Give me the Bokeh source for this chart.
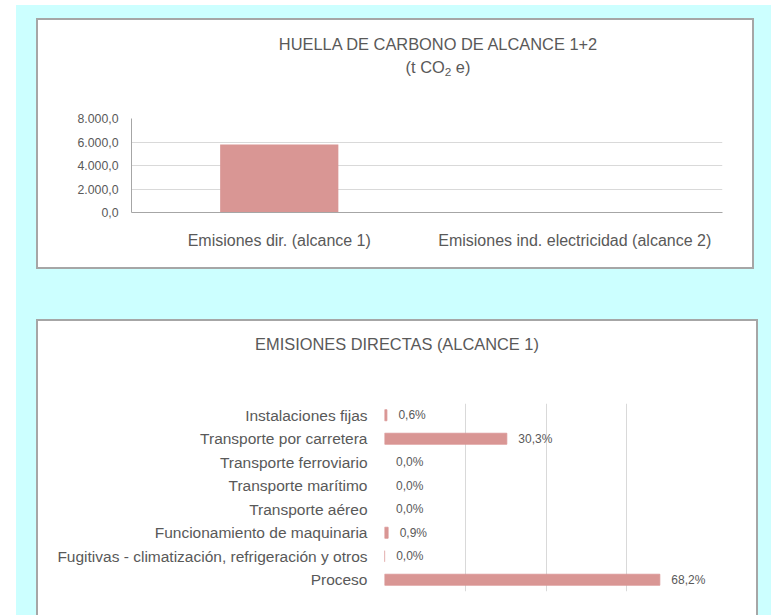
from bokeh.plotting import figure
from bokeh.layouts import column
from bokeh.models import FactorRange, Range1d, FixedTicker, LabelSet, ColumnDataSource, Div
from bokeh.embed import file_html
from bokeh.resources import INLINE
from bokeh.core.properties import value

# ---------------- data ----------------
title1_line1 = "HUELLA DE CARBONO DE ALCANCE 1+2"
title1_line2 = "(t CO<sub>2</sub> e)"
title2 = "EMISIONES DIRECTAS (ALCANCE 1)"

scope_categories = ["Emisiones dir. (alcance 1)", "Emisiones ind. electricidad (alcance 2)"]
scope_values = [5790.0, 0.0]
scope_ticks = [0, 2000, 4000, 6000, 8000]
scope_tick_labels = ["0,0", "2.000,0", "4.000,0", "6.000,0", "8.000,0"]

source_categories = [
    "Instalaciones fijas",
    "Transporte por carretera",
    "Transporte ferroviario",
    "Transporte marítimo",
    "Transporte aéreo",
    "Funcionamiento de maquinaria",
    "Fugitivas - climatización, refrigeración y otros",
    "Proceso",
]
source_shares = [0.006, 0.303, 0.0, 0.0, 0.0, 0.009, 0.0004, 0.682]
share_ticks = [0.0, 0.2, 0.4, 0.6, 0.8]

# ---------------- style ----------------
FONT = "'Liberation Sans', Arial, sans-serif"
TXT = "#595959"
BAR = "#D99694"
GRID = "#D9D9D9"
AXIS = "#A6A6A6"
BORDER = "2px solid #A6A6A6"
CYAN = "#CCFFFF"

TITLE_CSS = ("display:block; box-sizing:border-box; font-family:%s; font-size:16.4px; "
             "color:%s; text-align:center; line-height:23px; white-space:nowrap;"
             % (FONT.replace("'", ""), TXT))
SUB_CSS = "font-size:0.72em; vertical-align:-0.25em; line-height:0;"

# ---------------- chart 1 ----------------
t1 = Div(
    text='<div style="%s width:714px; padding-top:13px; padding-left:86px;">%s<br>%s</div>'
         % (TITLE_CSS, title1_line1,
            title1_line2.replace("<sub>", '<span style="%s">' % SUB_CSS).replace("</sub>", "</span>")),
    width=714, height=88, margin=0,
)

p1 = figure(
    x_range=FactorRange(*scope_categories),
    y_range=Range1d(0, 8000),
    width=714, height=159,
    output_backend="svg", toolbar_location=None,
    min_border_left=93, min_border_right=30, min_border_top=10, min_border_bottom=55,
    margin=0,
)
p1.vbar(x=scope_categories, top=scope_values, width=0.4, fill_color=BAR, line_color=None)
p1.outline_line_color = None

p1.yaxis.ticker = FixedTicker(ticks=scope_ticks)
p1.yaxis.major_label_overrides = {t: l for t, l in zip(scope_ticks, scope_tick_labels)}
p1.yaxis.axis_line_color = AXIS
p1.yaxis.major_tick_line_color = None
p1.yaxis.minor_tick_line_color = None
p1.yaxis.major_tick_out = 0
p1.yaxis.major_tick_in = 0
p1.yaxis.major_label_standoff = 13
p1.yaxis.major_label_text_font = FONT
p1.yaxis.major_label_text_font_size = "12.3px"
p1.yaxis.major_label_text_color = TXT

p1.xaxis.axis_line_color = AXIS
p1.xaxis.major_tick_line_color = None
p1.xaxis.minor_tick_line_color = None
p1.xaxis.major_tick_out = 0
p1.xaxis.major_tick_in = 0
p1.xaxis.major_label_standoff = 19
p1.xaxis.major_label_text_font = FONT
p1.xaxis.major_label_text_font_size = "16px"
p1.xaxis.major_label_text_color = TXT

p1.xgrid.grid_line_color = None
p1.ygrid.grid_line_color = GRID

box1 = column(t1, p1, margin=(13, 17, 25, 20),
              styles={"border": BORDER, "box-sizing": "content-box",
                      "background-color": "white"})

# ---------------- chart 2 ----------------
t2 = Div(
    text='<div style="%s width:718px; padding-top:12px;">%s</div>' % (TITLE_CSS, title2),
    width=718, height=72, margin=0,
)

p2 = figure(
    x_range=Range1d(0, 0.8),
    y_range=FactorRange(*reversed(source_categories)),
    width=718, height=222,
    output_backend="svg", toolbar_location=None,
    min_border_left=346, min_border_right=49, min_border_top=10, min_border_bottom=24,
    margin=0,
)
line_alphas = [1.0 if v > 0 else 0.0 for v in source_shares]
share_labels = [("%.1f%%" % (v * 100)).replace(".", ",") for v in source_shares]
src = ColumnDataSource(dict(cat=source_categories, share=source_shares,
                            lab=share_labels, la=line_alphas))
p2.hbar(y="cat", left=0, right="share", height=0.47, source=src,
        fill_color=BAR, line_color=BAR, line_alpha="la", line_width=0.8)
p2.add_layout(LabelSet(x="share", y="cat", text="lab", source=src,
                       x_offset=11.5, text_align="left", text_baseline="middle",
                       text_font=value(FONT), text_font_size=value("12px"),
                       text_color=value(TXT)))
p2.outline_line_color = None

p2.xaxis.visible = False
p2.xaxis.ticker = FixedTicker(ticks=share_ticks)
p2.xgrid.ticker = FixedTicker(ticks=share_ticks)
p2.xgrid.grid_line_color = GRID
p2.ygrid.grid_line_color = None

p2.yaxis.axis_line_color = None
p2.yaxis.major_tick_line_color = None
p2.yaxis.minor_tick_line_color = None
p2.yaxis.major_tick_out = 0
p2.yaxis.major_tick_in = 0
p2.yaxis.major_label_standoff = 17
p2.yaxis.major_label_text_font = FONT
p2.yaxis.major_label_text_font_size = "15.5px"
p2.yaxis.major_label_text_color = TXT

box2 = column(t2, p2, margin=(25, 13, 0, 20),
              styles={"border-left": BORDER, "border-top": BORDER, "border-right": BORDER,
                      "box-sizing": "content-box", "background-color": "white"})

# separate roots so the two plot frames are not aligned with each other
root1 = column(box1, margin=(5, 0, 0, 16), styles={"background-color": CYAN})
root2 = column(box2, margin=(0, 0, 0, 16), styles={"background-color": CYAN})

open("out.html", "w").write(file_html([root1, root2], INLINE))
